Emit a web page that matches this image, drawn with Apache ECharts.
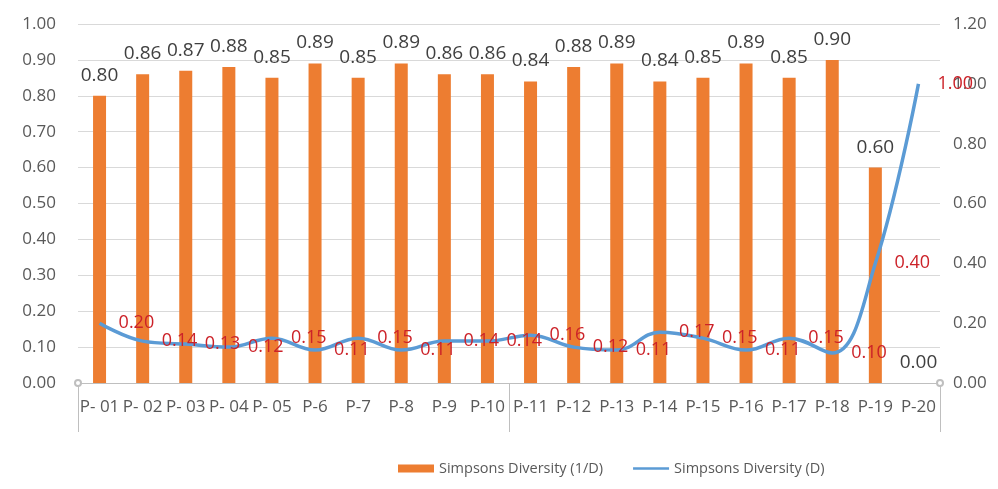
<!DOCTYPE html>
<html>
<head>
<meta charset="utf-8">
<script src="https://cdn.jsdelivr.net/npm/echarts@6/dist/echarts.min.js"></script>
<style>
  html, body { margin: 0; padding: 0; background: #fff; }
  #chart { width: 998px; height: 489px; }
</style>
</head>
<body>
<div id="chart"></div>
<script>
// Sampling plots
const plots = ['P- 01', 'P- 02', 'P- 03', 'P- 04', 'P- 05', 'P-6', 'P-7', 'P-8', 'P-9', 'P-10',
               'P-11', 'P-12', 'P-13', 'P-14', 'P-15', 'P-16', 'P-17', 'P-18', 'P-19', 'P-20'];
// Simpsons Diversity (1/D), left axis
const inverseIndex = [0.80, 0.86, 0.87, 0.88, 0.85, 0.89, 0.85, 0.89, 0.86, 0.86,
                      0.84, 0.88, 0.89, 0.84, 0.85, 0.89, 0.85, 0.90, 0.60, 0.00];
// Simpsons Diversity (D), right axis
const indexD = [0.20, 0.14, 0.13, 0.12, 0.15, 0.11, 0.15, 0.11, 0.14, 0.14,
                0.16, 0.12, 0.11, 0.17, 0.15, 0.11, 0.15, 0.10, 0.40, 1.00];
const seriesNames = ['Simpsons Diversity (1/D)', 'Simpsons Diversity (D)'];

const font = '"Open Sans", "Liberation Sans", sans-serif';
const chart = echarts.init(document.getElementById('chart'), null, { renderer: 'canvas' });

chart.setOption({
  animation: false,
  textStyle: { fontFamily: font },
  grid: { left: 78, right: 58, top: 24, bottom: 106, containLabel: false },
  legend: {
    left: 393,
    top: 456,
    itemGap: 30,
    itemWidth: 36,
    itemHeight: 8,
    textStyle: { fontSize: 14.5, color: '#595959', fontFamily: font },
    data: [
      { name: seriesNames[0], icon: 'rect' },
      { name: seriesNames[1], icon: 'path://M0,0H40V3H0Z' }
    ]
  },
  xAxis: [
    {
      type: 'category',
      data: plots,
      axisLine: {
        lineStyle: { color: '#bfbfbf', width: 1 },
        symbol: ['emptyCircle', 'emptyCircle'],
        symbolSize: [6, 6]
      },
      axisTick: { show: false },
      axisLabel: { interval: 0, color: '#595959', fontSize: 17, margin: 16, fontFamily: font }
    },
    {
      // group dividers beneath the category labels
      type: 'category',
      position: 'bottom',
      data: ['', ''],
      axisLine: { show: false },
      axisTick: { show: true, length: 49, lineStyle: { color: '#bfbfbf' } },
      axisLabel: { show: false },
      splitLine: { show: false }
    }
  ],
  yAxis: [
    {
      type: 'value',
      min: 0, max: 1, interval: 0.1,
      axisLine: { show: false },
      axisTick: { show: false },
      splitLine: { lineStyle: { color: '#d9d9d9' } },
      axisLabel: { color: '#595959', fontSize: 17, margin: 22, fontFamily: font,
                   formatter: v => v.toFixed(2) }
    },
    {
      type: 'value',
      min: 0, max: 1.2, interval: 0.2,
      axisLine: { show: false },
      axisTick: { show: false },
      splitLine: { show: false },
      axisLabel: { color: '#595959', fontSize: 17, margin: 13, fontFamily: font,
                   formatter: v => v.toFixed(2) }
    }
  ],
  series: [
    {
      name: seriesNames[0],
      type: 'bar',
      xAxisIndex: 0,
      yAxisIndex: 0,
      data: inverseIndex,
      barWidth: 13,
      itemStyle: { color: '#ED7D31' },
      label: {
        show: true, position: 'top', distance: 11,
        color: '#404040', fontSize: 19, fontFamily: font,
        formatter: p => p.value.toFixed(2)
      }
    },
    {
      name: seriesNames[1],
      type: 'line',
      xAxisIndex: 0,
      yAxisIndex: 1,
      data: indexD,
      smooth: 0.4,
      showSymbol: true,
      symbol: 'circle',
      symbolSize: 0.1,
      lineStyle: { color: '#5B9BD5', width: 3.5 },
      itemStyle: { color: '#5B9BD5' },
      label: {
        show: true, position: 'right', distance: 19,
        color: '#CC2229', fontSize: 18, fontFamily: font,
        formatter: p => p.value.toFixed(2)
      },
      labelLayout: { hideOverlap: false },
      z: 3
    }
  ]
});
</script>
</body>
</html>
